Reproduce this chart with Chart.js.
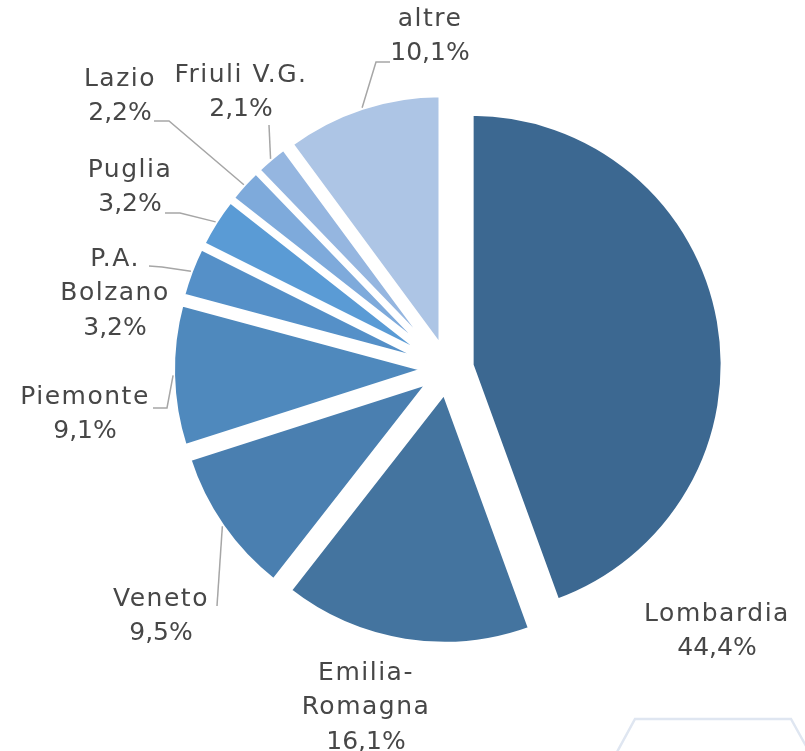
<!DOCTYPE html>
<html>
<head>
<meta charset="utf-8">
<script src="https://cdn.jsdelivr.net/npm/chart.js@4.4.0/dist/chart.umd.min.js"></script>
<style>
  body { margin: 0; background: #ffffff; }
  #grafico { display: block; }
</style>
</head>
<body>
<canvas id="grafico" width="805" height="751"></canvas>
<script>
// dati
const regioni = ['Lombardia', 'Emilia-Romagna', 'Veneto', 'Piemonte', 'P.A. Bolzano', 'Puglia', 'Lazio', 'Friuli V.G.', 'altre'];
const quote = [44.4, 16.1, 9.5, 9.1, 3.2, 3.2, 2.2, 2.1, 10.1];
const righeNomi = [['Lombardia'], ['Emilia-', 'Romagna'], ['Veneto'], ['Piemonte'], ['P.A.', 'Bolzano'], ['Puglia'], ['Lazio'], ['Friuli V.G.'], ['altre']];
const colori = ['#3c6891', '#44749f', '#4a7fb0', '#4f89bd', '#5590c8', '#5a9bd5', '#7eaadb', '#95b6e0', '#adc5e5'];

// posizione etichette (centro della prima riga) e punti di piega delle linee guida
const posEtichette = [[717, 614], [366, 673], [161, 599], [85, 397], [115, 259], [130, 170], [120, 79], [241, 75], [430, 19]];
const pieghe = [null, null, [[217, 606]], [[167, 408], [153, 408]], [[162, 267], [149, 266]], [[180, 213], [165, 213]], [[169, 121], [154, 121]], [[269, 125]], [[376, 62], [390, 62]]];

const ESPLOSO = 24;   // spostamento radiale di ogni fetta

function formatta(v) {
    return v.toFixed(1).replace('.', ',') + '%';
}

// sposta ogni fetta lungo la sua bisettrice (torta esplosa)
const esplodiPlugin = {
    id: 'esplodi',
    afterDatasetUpdate(chart, args) {
        args.meta.data.forEach(arco => {
            const meta = (arco.startAngle + arco.endAngle) / 2;
            arco.x += Math.cos(meta) * ESPLOSO;
            arco.y += Math.sin(meta) * ESPLOSO;
        });
    }
};

const etichettePlugin = {
    id: 'etichette',
    afterDatasetsDraw(chart) {
        const ctx = chart.ctx;
        const archi = chart.getDatasetMeta(0).data;
        ctx.save();

        // linee guida
        ctx.strokeStyle = '#a6a6a6';
        ctx.lineWidth = 1.5;
        archi.forEach((arco, i) => {
            if (!pieghe[i]) return;
            const meta = (arco.startAngle + arco.endAngle) / 2;
            const d = arco.outerRadius;
            ctx.beginPath();
            ctx.moveTo(arco.x + Math.cos(meta) * d, arco.y + Math.sin(meta) * d);
            pieghe[i].forEach(p => ctx.lineTo(p[0], p[1]));
            ctx.stroke();
        });

        // testi
        ctx.fillStyle = '#474747';
        ctx.font = '25px "DejaVu Sans"';
        ctx.textAlign = 'center';
        ctx.textBaseline = 'middle';
        archi.forEach((arco, i) => {
            const x = posEtichette[i][0];
            const y = posEtichette[i][1];
            ctx.letterSpacing = '1.5px';
            righeNomi[i].forEach((r, k) => ctx.fillText(r, x, y + k * 34.5));
            ctx.letterSpacing = '0px';
            ctx.fillText(formatta(quote[i]), x, y + righeNomi[i].length * 34.5);
        });

        // filigrana in basso a destra
        ctx.strokeStyle = '#dfe6f1';
        ctx.lineWidth = 2.5;
        ctx.beginPath();
        ctx.moveTo(617, 752);
        ctx.lineTo(635, 719);
        ctx.lineTo(791, 719);
        ctx.lineTo(806, 746);
        ctx.stroke();
        ctx.restore();
    }
};

new Chart(document.getElementById('grafico'), {
    type: 'pie',
    data: {
        labels: regioni,
        datasets: [{
            data: quote,
            backgroundColor: colori,
            borderColor: '#ffffff',
            borderWidth: 4
        }]
    },
    options: {
        responsive: false,
        animation: false,
        radius: 251,
        layout: { padding: { left: 91, right: 0, top: 0, bottom: 13 } },
        plugins: {
            legend: { display: false },
            tooltip: { enabled: false }
        }
    },
    plugins: [esplodiPlugin, etichettePlugin]
});
</script>
</body>
</html>
